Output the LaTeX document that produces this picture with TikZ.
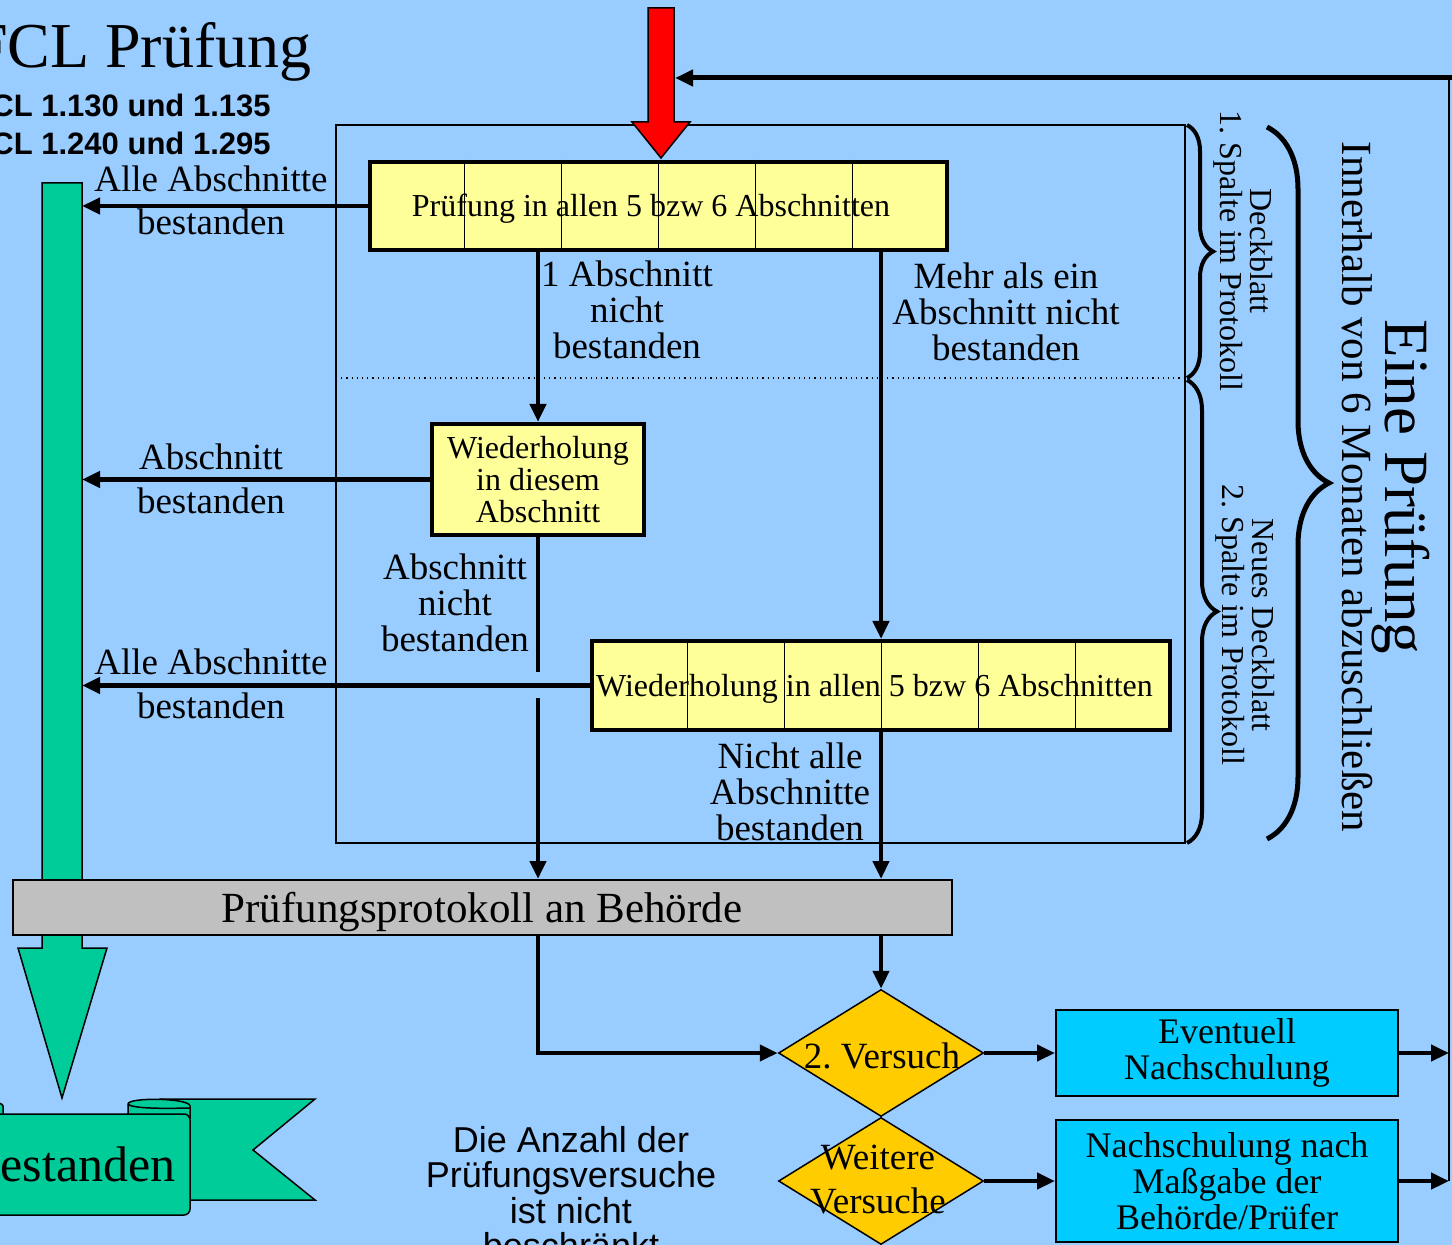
\documentclass[tikz,border=0pt]{standalone}
\usepackage{fontspec}
\setmainfont{Liberation Serif}
\newfontfamily\arialf{Liberation Sans}
\usetikzlibrary{arrows.meta,calc,shapes.geometric,decorations.pathreplacing}
\definecolor{bgc}{HTML}{99CCFF}
\definecolor{yel}{HTML}{FFFF99}
\definecolor{gry}{HTML}{C0C0C0}
\definecolor{grn}{HTML}{00CC99}
\definecolor{dia}{HTML}{FFCC00}
\definecolor{cyn}{HTML}{00CCFF}
\definecolor{redc}{HTML}{FF0000}
\frenchspacing
\tikzset{
  lbl/.style={font=\fontsize{18.5}{18}\selectfont, align=center, inner sep=0pt},
  ybox/.style={draw, line width=2pt, fill=yel, inner sep=0pt, font=\fontsize{16}{16}\selectfont, align=center},
  ytext/.style={font=\fontsize{16}{16}\selectfont, inner sep=0pt, anchor=base},
  bbox/.style={draw, line width=1pt, fill=cyn, inner sep=0pt, font=\fontsize{18}{18}\selectfont, align=center},
  conn/.style={line width=2.25pt, -{Triangle[length=9pt,width=8pt]}},
  plainln/.style={line width=2.25pt},
  dshape/.style={diamond, draw, fill=dia, line width=0.75pt, minimum width=102.5pt, minimum height=63.5pt, inner sep=0pt},
  shapeln/.style={draw=black, line width=0.75pt},
  rot/.style={rotate=-90, inner sep=0pt, align=center}
}
\begin{document}
\begin{tikzpicture}[x=0.5pt,y=-0.5pt]
\useasboundingbox (0,0) rectangle (1452,1245);
\clip (0,0) rectangle (1452,1245);
\fill[bgc] (0,0) rectangle (1452,1245);

% title
\node[anchor=base east, font=\fontsize{32}{32}\selectfont, inner sep=0pt] (title) at (312,68) {FCL Prüfung};
\node[anchor=base east, font=\arialf\bfseries\fontsize{15.5}{15.5}\selectfont, inner sep=0pt] (sub1) at (271,117) {FCL 1.130 und 1.135};
\node[anchor=base east, font=\arialf\bfseries\fontsize{15.5}{15.5}\selectfont, inner sep=0pt] (sub2) at (271,155) {FCL 1.240 und 1.295};

% green arrow
\draw[shapeln, fill=grn] (42,183) -- (82,183) -- (82,948) -- (107,948) -- (62,1098) -- (18,948) -- (42,948) -- cycle;
\coordinate (gsR) at (82,183);

% banner
\draw[shapeln, fill=grn] (160,1099) -- (315,1099) -- (253,1150) -- (315,1200) -- (160,1200) -- cycle;
\draw[shapeln, fill=grn] (128,1118) -- (128,1104) .. controls (128,1097) and (190,1098) .. (190,1106) -- (190,1118) -- cycle;
\draw[shapeln] (128,1104) .. controls (132,1110) and (185,1108) .. (190,1108);
\draw[shapeln, fill=grn] (-70,1118) -- (-70,1104) .. controls (-70,1097) and (3,1098) .. (3,1106) -- (3,1118) -- cycle;
\draw[shapeln, fill=grn, rounded corners=3pt] (-20,1114) -- (190,1114) -- (190,1215) -- (-20,1215);
\node[anchor=base east, font=\fontsize{25}{25}\selectfont, inner sep=0pt] (bn) at (176,1181) {Bestanden};

% outer frame
\node[draw, line width=0.7pt, minimum width=424.5pt, minimum height=359pt, inner sep=0pt] (frame) at (760.5,484) {};
\coordinate (dl) at (336,378);
\coordinate (dr) at (1185,378);
\draw[dotted, line width=0.6pt] (dl) -- (dr);

% red arrow
\draw[shapeln, fill=redc] (648,8) -- (674,8) -- (674,122) -- (690,122) -- (661,158) -- (632,122) -- (648,122) -- cycle;
\coordinate (redR) at (675,78);

% yellow boxes
\node[ybox, minimum width=288.5pt, minimum height=44pt] (tb) at (658.5,206) {};
\foreach \k in {1,...,5} {\draw[line width=0.5pt] ($(tb.north west)!\k/6!(tb.north east)$) -- ($(tb.south west)!\k/6!(tb.south east)$);}
\node[ytext] (tbt) at (651,217) {Prüfung in allen 5 bzw 6 Abschnitten};
\node[ybox, minimum width=106pt, minimum height=55.5pt] (wb) at (538,479.5) {Wiederholung\\in diesem\\Abschnitt};
\node[ybox, minimum width=289pt, minimum height=44.5pt] (bb) at (881,685.5) {};
\foreach \k in {1,...,5} {\draw[line width=0.5pt] ($(bb.north west)!\k/6!(bb.north east)$) -- ($(bb.south west)!\k/6!(bb.south east)$);}
\node[ytext] (bbt) at (874.5,697) {Wiederholung in allen 5 bzw 6 Abschnitten};

% grey box
\node[draw, fill=gry, line width=1pt, minimum width=469.5pt, minimum height=27.5pt, inner sep=0pt] (gb) at (482.5,907.5) {};
\node[anchor=base, inner sep=0pt, font=\fontsize{21.5}{22}\selectfont] (gbt) at (482,922) {Prüfungsprotokoll an Behörde};

% diamonds
\node[dshape] (d1) at (881,1053) {};
\node[lbl] (d1t) at (882,1056) {2. Versuch};
\node[dshape] (d2) at (881,1181) {};
\node[lbl, font=\fontsize{18.5}{22}\selectfont] (d2t) at (878,1180) {Weitere\\Versuche};

% blue boxes
\node[bbox, minimum width=171pt, minimum height=43pt] (e1) at (1227,1053) {Eventuell\\Nachschulung};
\node[bbox, minimum width=171pt, minimum height=61pt] (e2) at (1227,1181) {Nachschulung nach\\Maßgabe der\\Behörde/Prüfer};

% note
\node[font=\arialf\fontsize{18}{17.75}\selectfont, align=center, anchor=north, inner sep=0pt] (note) at (571,1126) {Die Anzahl der\\Prüfungsversuche\\ist nicht\\beschränkt};

% right side
\coordinate (rin) at (1460,78);
\coordinate (rr) at (1449,78);
\draw[line width=2.5pt, -{Triangle[length=9pt,width=8pt]}] (rin) -- (redR);
\draw[line width=1pt] (rr) -- (rr |- e2.east);

% connectors
\draw[conn] (tb.west) -- (tb.west -| gsR);
\draw[conn] (wb.north |- tb.south) -- (wb.north);
\draw[conn] (bb.north |- tb.south) -- (bb.north);
\draw[conn] (wb.west) -- (wb.west -| gsR);
\draw[conn] (bb.west) -- (bb.west -| gsR);
\draw[plainln] (wb.south) -- ($(wb.south |- bb.west)+(0,-13)$);
\draw[conn] ($(wb.south |- bb.west)+(0,13)$) -- (wb.south |- gb.north);
\draw[conn] (bb.south) -- (bb.south |- gb.north);
\draw[conn] (d1.north |- gb.south) -- (d1.north);
\draw[conn] (wb.south |- gb.south) -- (wb.south |- d1.west) -- (d1.west);
\draw[conn] (d1.east) -- (e1.west);
\draw[conn] (d2.east) -- (e2.west);
\draw[conn] (e1.east) -- (e1.east -| rr);
\draw[conn] (e2.east) -- (e2.east -| rr);

% labels
\node[lbl, anchor=base] (l1a) at (211,192) {Alle Abschnitte};
\node[lbl, anchor=base] (l1b) at (211,235) {bestanden};
\node[lbl, anchor=base] (l2a) at (211,470) {Abschnitt};
\node[lbl, anchor=base] (l2b) at (211,514) {bestanden};
\node[lbl, anchor=base] (l3a) at (211,675) {Alle Abschnitte};
\node[lbl, anchor=base] (l3b) at (211,719) {bestanden};
\node[lbl] (l4) at (627,310) {1 Abschnitt\\nicht\\bestanden};
\node[lbl] (l5) at (1006,312) {Mehr als ein\\Abschnitt nicht\\bestanden};
\node[lbl] (l6) at (455,603) {Abschnitt\\nicht\\bestanden};
\node[lbl] (l7) at (790,792) {Nicht alle\\Abschnitte\\bestanden};

% braces
\draw[line width=2pt, decorate, decoration={brace, amplitude=13pt}] (1187,125) -- (1187,378);
\draw[line width=2pt, decorate, decoration={brace, amplitude=15pt}] (1187,380) -- (1187,843);
\draw[line width=2.5pt, decorate, decoration={brace, amplitude=31pt}] (1267,127) -- (1267,839);

% rotated texts
\node[rot, font=\fontsize{16}{15}\selectfont] (r1) at (1243,251) {Deckblatt\\1. Spalte im Protokoll};
\node[rot, font=\fontsize{16}{15}\selectfont] (r2) at (1245,625) {Neues Deckblatt\\2. Spalte im Protokoll};
\node[rot, anchor=base, font=\fontsize{31.5}{32}\selectfont] (r3) at (1385,487) {Eine Prüfung};
\node[rot, anchor=base, font=\fontsize{21.5}{22}\selectfont] (r4) at (1342,487) {Innerhalb von 6 Monaten abzuschließen};
\end{tikzpicture}
\end{document}
